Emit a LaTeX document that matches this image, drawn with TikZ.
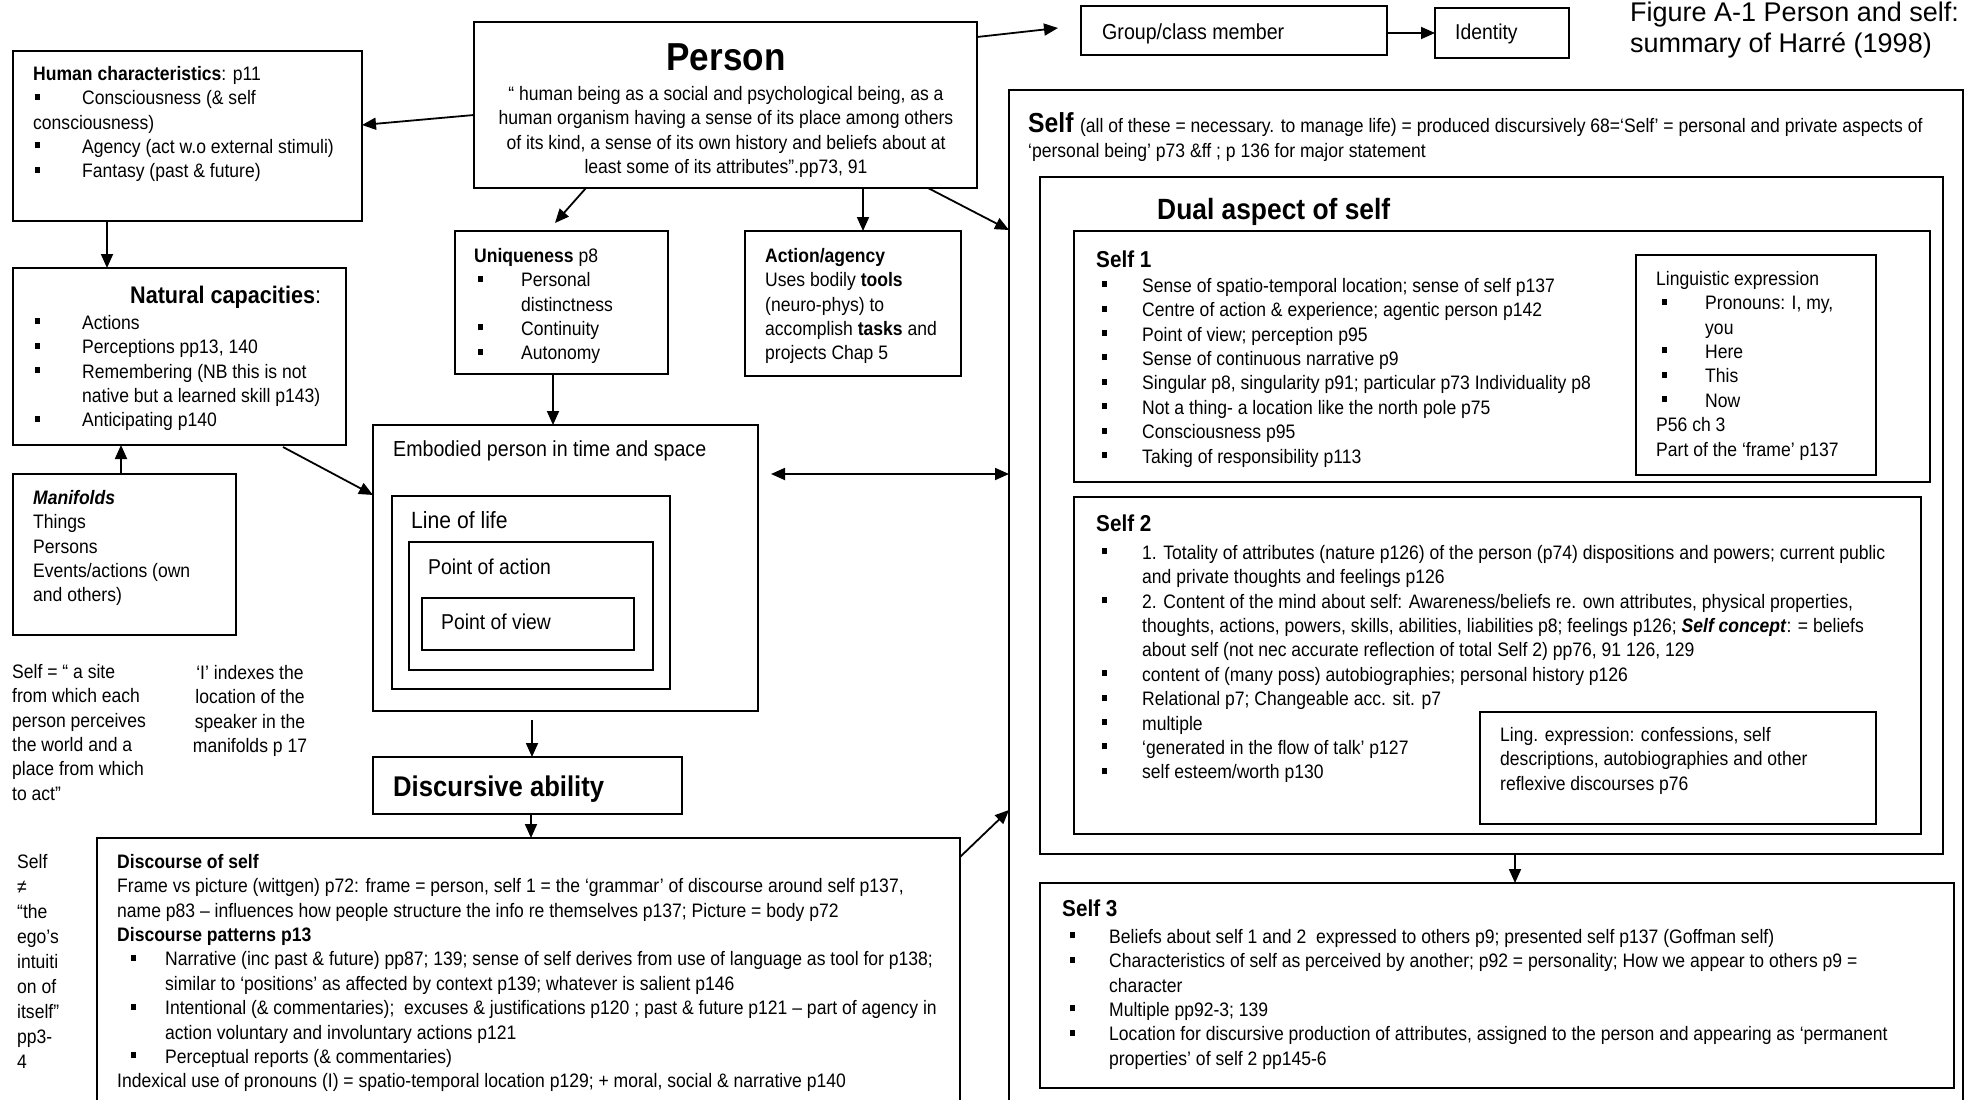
\documentclass[tikz,border=0pt]{standalone}
\usepackage{fontspec}
\setmainfont{Liberation Sans}[FakeStretch=0.9]
\newfontfamily\capfont{Liberation Sans}
\usetikzlibrary{arrows.meta,calc}

% square list bullet and hanging-indent helpers
\newcommand\bul{\rule[5pt]{5pt}{6pt}}
\newcommand\setb[2]{\gdef\bindw{#1}\gdef\boffw{#2}}
\newcommand\bi{\makebox[\bindw pt][l]{\hspace*{\boffw pt}\bul}}
\newcommand\ci{\hspace*{\bindw pt}}
\newcommand\fst{\rule{0pt}{0.77em}}
\newcommand\sz[2]{\fontsize{#1}{#2}\selectfont}

\tikzset{
  box/.style={draw, line width=2pt, anchor=north west, inner sep=0pt, outer sep=0pt},
  tb/.style={anchor=north west, inner sep=0pt, align=left, font=\sz{19.5}{24.4}},
  ln/.style={anchor=base west, inner sep=0pt},
  arr/.style={line width=1.8pt, -{Triangle[length=14pt,width=12pt]}},
  darr/.style={line width=1.8pt, {Triangle[length=14pt,width=12pt]}-{Triangle[length=14pt,width=12pt]}},
}

\begin{document}
\begin{tikzpicture}[x=1pt,y=-1pt]
\useasboundingbox (0,0) rectangle (1970,1100);
\fill[white] (0,0) rectangle (1970,1100);
\clip (0,0) rectangle (1970,1100);

% ---------- boxes ----------
\node[box, minimum width=349pt, minimum height=170pt] (human)   at (13,51) {};
\node[box, minimum width=333pt, minimum height=177pt] (natural) at (13,268) {};
\node[box, minimum width=223pt, minimum height=161pt] (manif)   at (13,474) {};
\node[box, minimum width=503pt, minimum height=166pt] (person)  at (474,22) {};
\node[box, minimum width=213pt, minimum height=143pt] (uniq)    at (455,231) {};
\node[box, minimum width=216pt, minimum height=145pt] (action)  at (745,231) {};
\node[box, minimum width=306pt, minimum height=49pt]  (group)   at (1081,6) {};
\node[box, minimum width=134pt, minimum height=50pt]  (ident)   at (1435,8) {};
\node[box, minimum width=385pt, minimum height=286pt] (embod)   at (373,425) {};
\node[box, minimum width=278pt, minimum height=193pt] (life)    at (392,496) {};
\node[box, minimum width=244pt, minimum height=128pt] (poa)     at (409,542) {};
\node[box, minimum width=212pt, minimum height=52pt]  (pov)     at (422,598) {};
\node[box, minimum width=309pt, minimum height=57pt]  (disc)    at (373,757) {};
\node[box, minimum width=863pt, minimum height=280pt] (dself)   at (97,838) {};
\node[box, minimum width=954pt, minimum height=1030pt] (self)   at (1009,90) {};
\node[box, minimum width=903pt, minimum height=677pt] (dual)    at (1040,177) {};
\node[box, minimum width=856pt, minimum height=251pt] (selfa)   at (1074,231) {};
\node[box, minimum width=240pt, minimum height=220pt] (lingA)   at (1636,255) {};
\node[box, minimum width=847pt, minimum height=337pt] (selfb)   at (1074,497) {};
\node[box, minimum width=396pt, minimum height=112pt] (lingB)   at (1480,712) {};
\node[box, minimum width=914pt, minimum height=205pt] (selfc)   at (1040,883) {};

% ---------- connectors ----------
\draw[arr] ($(person.north west)+(0,93)$) -- ($(human.north east)+(0,74)$);
\draw[arr] ($(person.north east)+(0,15)$) -- ($(group.north west)+(-23,22)$);
\draw[arr] ($(group.north east)+(0,27)$) -- ($(ident.north west)+(0,25)$);
\draw[arr] ($(person.south west)+(112,0)$) -- ($(uniq.north west)+(100,-8)$);
\draw[arr] ($(person.south west)+(389,0)$) -- ($(action.north west)+(118,0)$);
\draw[arr] ($(person.south west)+(454,0)$) -- ($(self.north west)+(0,140)$);
\draw[arr] ($(human.south west)+(94,0)$) -- ($(natural.north west)+(94,0)$);
\draw[arr] ($(manif.north west)+(108,0)$) -- ($(natural.south west)+(108,0)$);
\draw[arr] ($(natural.south west)+(270,2)$) -- ($(embod.north west)+(0,70)$);
\draw[arr] ($(uniq.south west)+(98,0)$) -- ($(embod.north west)+(180,0)$);
\draw[darr] ($(embod.north east)+(13,49)$) -- ($(self.north west)+(0,384)$);
\draw[arr] ($(embod.south west)+(159,9)$) -- ($(disc.north west)+(159,0)$);
\draw[arr] ($(disc.south west)+(158,0)$) -- ($(dself.north west)+(434,0)$);
\draw[arr] ($(dself.north east)+(0,19)$) -- ($(self.north west)+(0,720)$);
\draw[arr] ($(dual.south west)+(475,0)$) -- ($(selfc.north west)+(475,0)$);

% ---------- left column ----------
\setb{49}{2}
\node[tb] (thuman) at (33,65) {\fst\textbf{Human characteristics}: p11\\
  \bi Consciousness (\& self\\
  consciousness)\\
  \bi Agency (act w.o external stimuli)\\
  \bi Fantasy (past \& future)};

\node[ln, font=\sz{24}{28}] (tnat) at (130,303.5) {\textbf{Natural capacities}:};
\node[tb] (tnatl) at (33,314) {\fst\bi Actions\\
  \bi Perceptions pp13, 140\\
  \bi Remembering (NB this is not\\
  \ci native but a learned skill p143)\\
  \bi Anticipating p140};

\node[tb] (tmanif) at (33,489) {\fst\textbf{\textit{Manifolds}}\\ Things\\ Persons\\ Events/actions (own\\ and others)};

\node[tb] (tsite) at (12,663) {\fst Self = “ a site\\ from which each\\ person perceives\\ the world and a\\ place from which\\ to act”};
\node[tb, anchor=north, align=center] (tindex) at (250,664) {\fst ‘I’ indexes the\\ location of the\\ speaker in the\\ manifolds p 17};

\node[tb, font=\sz{19.5}{25}] (tne) at (17,853) {\fst Self\\ ≠\\ “the\\ ego’s\\ intuiti\\ on of\\ itself”\\ pp3-\\ 4};

% ---------- person ----------
\node[inner sep=0pt, font=\sz{39}{44}\bfseries] (tperson) at (726,57.5) {Person};
\node[anchor=north, inner sep=0pt, align=center, font=\sz{19.5}{24.4}] (tpdef) at (726,85) {\fst“ human being as a social and psychological being, as a\\
  human organism having a sense of its place among others\\
  of its kind, a sense of its own history and beliefs about at\\
  least some of its attributes”.pp73, 91};

\setb{47}{4}
\node[tb] (tuniq) at (474,247) {\fst\textbf{Uniqueness} p8\\ \bi Personal\\ \ci distinctness\\ \bi Continuity\\ \bi Autonomy};
\node[tb] (tact) at (765,247) {\fst\textbf{Action/agency}\\ Uses bodily \textbf{tools}\\ (neuro-phys) to\\ accomplish \textbf{tasks} and\\ projects Chap 5};

\node[ln, font=\sz{21.8}{25}] (tgroup) at (1102,39) {Group/class member};
\node[ln, font=\sz{21.5}{25}] (tident) at (1455,39) {Identity};

\node[tb, font=\capfont\sz{27}{31}] (tcap) at (1630,1) {\fst Figure A-1 Person and self:\\ summary of Harré (1998)};

% ---------- embodied person ----------
\node[ln, font=\sz{21.8}{26}] (temb) at (393,456) {Embodied person in time and space};
\node[ln, font=\sz{23.5}{28}] (tlife) at (411,528) {Line of life};
\node[ln, font=\sz{21.5}{26}] (tpoa) at (428,574) {Point of action};
\node[ln, font=\sz{21.5}{26}] (tpov) at (441,629) {Point of view};
\node[ln, font=\sz{28.5}{32}\bfseries] (tdisc) at (393,796) {Discursive ability};

\setb{48}{14}
\node[tb] (tdself) at (117,853) {\fst\textbf{Discourse of self}\\
  Frame vs picture (wittgen) p72: frame = person, self 1 = the ‘grammar’ of discourse around self p137,\\
  name p83 – influences how people structure the info re themselves p137; Picture = body p72\\
  \textbf{Discourse patterns p13}\\
  \bi Narrative (inc past \& future) pp87; 139; sense of self derives from use of language as tool for p138;\\
  \ci similar to ‘positions’ as affected by context p139; whatever is salient p146\\
  \bi Intentional (\& commentaries);\ \ excuses \& justifications p120 ; past \& future p121 – part of agency in\\
  \ci action voluntary and involuntary actions p121\\
  \bi Perceptual reports (\& commentaries)\\
  Indexical use of pronouns (I) = spatio-temporal location p129; + moral, social \& narrative p140};

% ---------- self ----------
\node[ln, font=\sz{27.5}{30}\bfseries] (tself) at (1028,132) {Self};
\node[ln, font=\sz{19.5}{22}] (tselfa) at ($(tself.base east)+(6,0)$) {(all of these = necessary. to manage life) = produced discursively 68=‘Self’ = personal and private aspects of};
\node[ln, font=\sz{19.5}{22}] (tselfb) at (1028,157) {‘personal being’ p73 \&ff ; p 136 for major statement};

\node[ln, font=\sz{29.3}{32}\bfseries] (tdual) at (1157,219) {Dual aspect of self};

\node[ln, font=\sz{23}{28}\bfseries] (tsa) at (1096,267) {Self 1};
\setb{42}{2}
\node[tb] (tsal) at (1100,277) {\fst\bi Sense of spatio-temporal location; sense of self p137\\
  \bi Centre of action \& experience; agentic person p142\\
  \bi Point of view; perception p95\\
  \bi Sense of continuous narrative p9\\
  \bi Singular p8, singularity p91; particular p73 Individuality p8\\
  \bi Not a thing- a location like the north pole p75\\
  \bi Consciousness p95\\
  \bi Taking of responsibility p113};

\setb{49}{6}
\node[tb] (tla) at (1656,270) {\fst Linguistic expression\\ \bi Pronouns: I, my,\\ \ci you\\ \bi Here\\ \bi This\\ \bi Now\\ P56 ch 3\\ Part of the ‘frame’ p137};

\node[ln, font=\sz{23}{28}\bfseries] (tsb) at (1096,531) {Self 2};
\setb{42}{2}
\node[tb] (tsbl) at (1100,544) {\fst\bi 1. Totality of attributes (nature p126) of the person (p74) dispositions and powers; current public\\
  \ci and private thoughts and feelings p126\\
  \bi 2. Content of the mind about self: Awareness/beliefs re. own attributes, physical properties,\\
  \ci thoughts, actions, powers, skills, abilities, liabilities p8; feelings p126; \textbf{\textit{Self concept}}: = beliefs\\
  \ci about self (not nec accurate reflection of total Self 2) pp76, 91 126, 129\\
  \bi content of (many poss) autobiographies; personal history p126\\
  \bi Relational p7; Changeable acc. sit. p7\\
  \bi multiple\\
  \bi ‘generated in the flow of talk’ p127\\
  \bi self esteem/worth p130};

\node[tb] (tlb) at (1500,726) {\fst Ling. expression: confessions, self\\ descriptions, autobiographies and other\\ reflexive discourses p76};

\node[ln, font=\sz{23}{28}\bfseries] (tsc) at (1062,916) {Self 3};
\setb{41}{2}
\node[tb] (tscl) at (1068,928) {\fst\bi Beliefs about self 1 and 2\ \ expressed to others p9; presented self p137 (Goffman self)\\
  \bi Characteristics of self as perceived by another; p92 = personality; How we appear to others p9 =\\
  \ci character\\
  \bi Multiple pp92-3; 139\\
  \bi Location for discursive production of attributes, assigned to the person and appearing as ‘permanent\\
  \ci properties’ of self 2 pp145-6};

\end{tikzpicture}
\end{document}
